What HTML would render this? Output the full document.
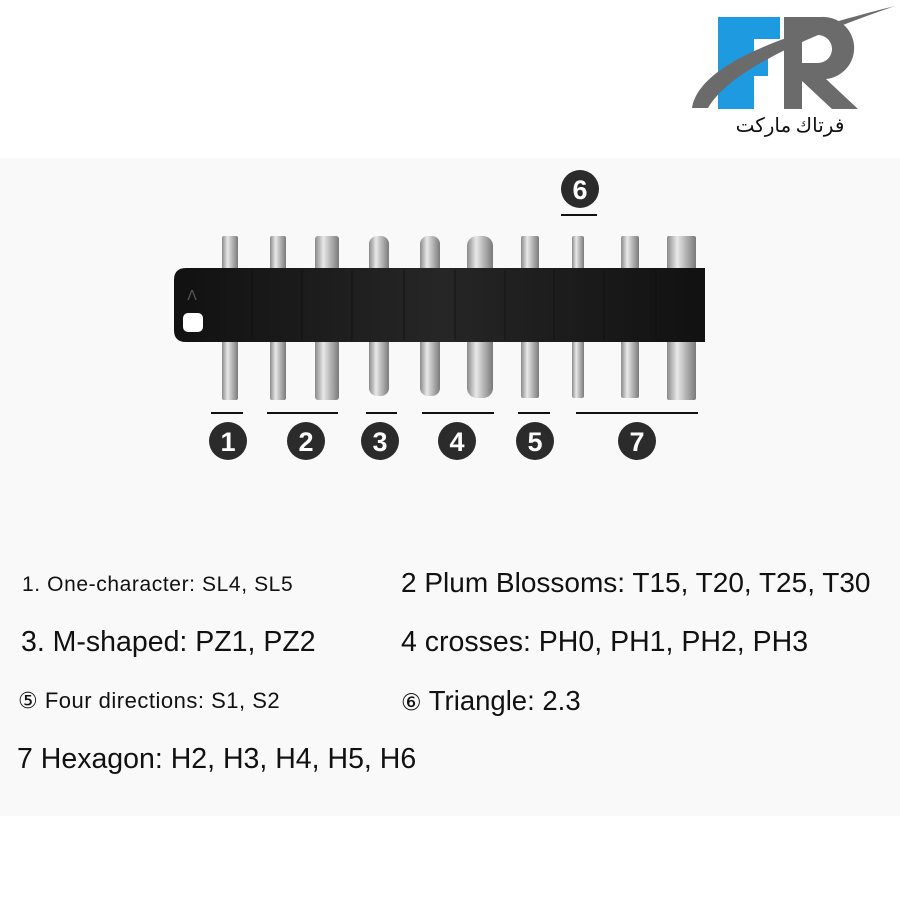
<!DOCTYPE html>
<html><head><meta charset="utf-8"><style>
body{margin:0;width:900px;height:900px;background:#fff;position:relative;overflow:hidden;font-family:"Liberation Sans","DejaVu Sans",sans-serif;color:#111}
.panel{position:absolute;left:0;top:158px;width:900px;height:658px;background:#f9f9f9}
.t{position:absolute;white-space:nowrap;line-height:1}
</style></head><body>
<div class="panel"></div>
<svg width="900" height="900" style="position:absolute;left:0;top:0">
<defs>
<linearGradient id="m" x1="0" x2="1">
<stop offset="0" stop-color="#8a8a8a"/><stop offset="0.35" stop-color="#e8e8e8"/><stop offset="0.6" stop-color="#bcbcbc"/><stop offset="1" stop-color="#7a7a7a"/></linearGradient>
<linearGradient id="b" x1="0" x2="1">
<stop offset="0" stop-color="#111"/><stop offset="0.5" stop-color="#262626"/><stop offset="1" stop-color="#111"/></linearGradient>
</defs>
<!-- logo -->
<rect x="718" y="17" width="36" height="92" fill="#1e9be0"/>
<rect x="718" y="17" width="62" height="22" fill="#1e9be0"/>
<rect x="718" y="56" width="50" height="20" fill="#1e9be0"/>
<path d="M784 17 h36 a30 30 0 0 1 6 62 l32 30 h-26 l-30 -28 v28 h-18z M802 35 v28 h16 a14 14 0 0 0 0 -28z" fill="#6b6b6b" fill-rule="evenodd"/>
<path d="M692 108 C700 60 800 30 895 6 C810 35 730 70 708 108z" fill="#6b6b6b"/>
<text x="790" y="132" font-family="Noto Sans CJK SC,DejaVu Sans,sans-serif" font-size="20" text-anchor="middle" fill="#111">فرتاك ماركت</text>
<!-- bits -->
<g fill="url(#m)">
<rect x="222" y="236" width="16" height="164" rx="2"/>
<rect x="270" y="236" width="16" height="164" rx="2"/>
<rect x="315" y="236" width="24" height="164" rx="3"/>
<rect x="369" y="236" width="20" height="160" rx="8"/>
<rect x="420" y="236" width="20" height="160" rx="8"/>
<rect x="467" y="236" width="26" height="162" rx="10"/>
<rect x="521" y="236" width="18" height="162" rx="2"/>
<rect x="572" y="236" width="12" height="162" rx="2"/>
<rect x="621" y="236" width="18" height="162" rx="2"/>
<rect x="667" y="236" width="29" height="164" rx="2"/>
</g>
<path d="M174 280 Q174 268 186 268 H705 V342 H186 Q174 342 174 330Z" fill="url(#b)"/>
<g stroke="#0a0a0a" stroke-width="1" opacity="0.6">
<line x1="252" y1="270" x2="252" y2="340"/><line x1="302" y1="270" x2="302" y2="340"/><line x1="352" y1="270" x2="352" y2="340"/><line x1="404" y1="270" x2="404" y2="340"/><line x1="455" y1="270" x2="455" y2="340"/><line x1="505" y1="270" x2="505" y2="340"/><line x1="554" y1="270" x2="554" y2="340"/><line x1="604" y1="270" x2="604" y2="340"/><line x1="656" y1="270" x2="656" y2="340"/>
</g>
<rect x="183" y="313" width="20" height="19" rx="5" fill="#fff"/>
<text x="192" y="300" font-size="14" fill="#555" text-anchor="middle">ꓥ</text>
<!-- underlines -->
<g stroke="#111" stroke-width="2">
<line x1="211" y1="413" x2="243" y2="413"/><line x1="267" y1="413" x2="338" y2="413"/><line x1="366" y1="413" x2="397" y2="413"/><line x1="422" y1="413" x2="494" y2="413"/><line x1="518" y1="413" x2="550" y2="413"/><line x1="576" y1="413" x2="698" y2="413"/><line x1="561" y1="215" x2="597" y2="215"/>
</g>
<g fill="#2b2b2b">
<circle cx="228" cy="441" r="19"/><circle cx="306" cy="441" r="19"/><circle cx="380" cy="441" r="19"/><circle cx="457" cy="441" r="19"/><circle cx="535" cy="441" r="19"/><circle cx="637" cy="441" r="19"/><circle cx="580" cy="189" r="19"/>
</g>
<g fill="#fff" font-size="27" font-weight="bold" text-anchor="middle">
<text x="228" y="451">1</text><text x="306" y="451">2</text><text x="380" y="451">3</text><text x="457" y="451">4</text><text x="535" y="451">5</text><text x="637" y="451">7</text><text x="580" y="199">6</text>
</g>
</svg>
<div class="t" style="left:22px;top:574px;font-size:21px;letter-spacing:0.6px">1. One-character: SL4, SL5</div>
<div class="t" style="left:401px;top:569px;font-size:28px">2 Plum Blossoms: T15, T20, T25, T30</div>
<div class="t" style="left:21px;top:628px;font-size:28.5px">3. M-shaped: PZ1, PZ2</div>
<div class="t" style="left:401px;top:628px;font-size:28.5px">4 crosses: PH0, PH1, PH2, PH3</div>
<div class="t" style="left:18px;top:690px;font-size:22px;letter-spacing:0.5px">⑤ Four directions: S1, S2</div>
<div class="t" style="left:401px;top:687px;font-size:27.5px"><span style="font-size:23px">⑥</span> Triangle: 2.3</div>
<div class="t" style="left:17px;top:745px;font-size:28.5px">7 Hexagon: H2, H3, H4, H5, H6</div>
</body></html>
